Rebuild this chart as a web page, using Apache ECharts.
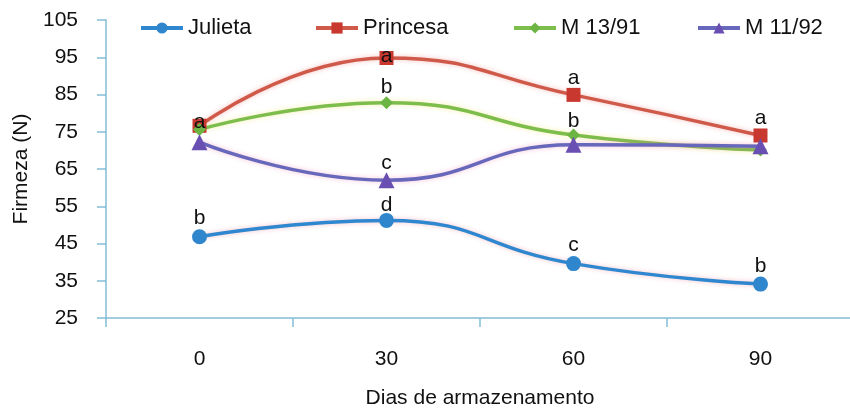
<!DOCTYPE html>
<html>
<head>
<meta charset="utf-8">
<script src="https://cdn.jsdelivr.net/npm/echarts@6/dist/echarts.min.js"></script>
<style>
  html, body { margin: 0; padding: 0; background: #ffffff; }
  #chart { width: 850px; height: 410px; }
</style>
</head>
<body>
<div id="chart"></div>
<script>
// Storage days and firmness (N) per cultivar
const days = ['0', '30', '60', '90'];

const julieta  = [46.8, 51.2, 39.6, 34.1];
const princesa = [76.6, 94.8, 84.9, 74.0];
const m1391    = [75.6, 82.8, 74.1, 70.1];
const m1192    = [72.2, 62.0, 71.5, 71.1];

// Significance letters written over each point
const julietaLetters  = ['b', 'd', 'c', 'b'];
const princesaLetters = ['a', 'a', 'a', 'a'];
const m1391Letters    = ['', 'b', 'b', ''];
const m1192Letters    = ['', 'c', '', ''];

// y-axis ticks
const yMin = 25, yMax = 105, yStep = 10;

const FONT = '"Liberation Sans", Arial, sans-serif';
const AXIS_COLOR = '#84bcd6';

// vertical lift of each letter above its point, px
const lifts = {
  Julieta:  [19, 15, 18, 18],
  Princesa: [4, 2, 17, 17],
  'M 13/91': [0, 15, 14, 0],
  'M 11/92': [0, 17, 0, 0]
};

function makeSeries(name, values, letters, color, markColor, symbol, size, glow) {
  return {
    name: name,
    type: 'line',
    smooth: 0.5,
    symbol: symbol,
    symbolSize: size,
    data: values.map((v, i) => ({
      value: v,
      label: {
        show: letters[i] !== '',
        formatter: letters[i],
        position: 'inside',
        offset: [0, -lifts[name][i]]
      }
    })),
    lineStyle: { color: color, width: 3.5, shadowBlur: 5, shadowColor: glow },
    itemStyle: { color: markColor },
    label: { color: '#111', fontSize: 21, fontFamily: FONT },
    emphasis: { disabled: true }
  };
}

const series = [
  makeSeries('Julieta', julieta, julietaLetters, '#2f88cf', '#2f86cd', 'circle', 15, 'rgba(235,120,140,0.45)'),
  makeSeries('Princesa', princesa, princesaLetters, '#cf5a4a', '#c8382e', 'rect', 14, 'rgba(235,120,120,0.45)'),
  makeSeries('M 13/91', m1391, m1391Letters, '#7dbd4c', '#6cb544', 'diamond', 13, 'rgba(240,230,90,0.5)'),
  makeSeries('M 11/92', m1192, m1192Letters, '#6767bb', '#6a4fb2', 'triangle', 16, 'rgba(235,120,170,0.45)')
];

const legendLefts = [134, 309, 507, 691];
const legends = series.map((s, i) => ({
  data: [s.name],
  left: legendLefts[i],
  top: 12,
  itemWidth: 42,
  itemHeight: 14,
  lineStyle: { width: 4 },
  textStyle: { fontSize: 22, fontFamily: FONT, color: '#111' },
  selectedMode: false
}));

const chart = echarts.init(document.getElementById('chart'), null, { renderer: 'canvas' });
chart.setOption({
  animation: false,
  backgroundColor: '#ffffff',
  legend: legends,
  grid: { left: 106, right: -4, top: 20, bottom: 92, containLabel: false, outerBoundsMode: 'none' },
  xAxis: {
    type: 'category',
    data: days,
    boundaryGap: true,
    name: 'Dias de armazenamento',
    nameLocation: 'middle',
    nameGap: 70,
    nameTextStyle: { fontSize: 21, fontFamily: FONT, color: '#111' },
    axisLine: { lineStyle: { color: AXIS_COLOR, width: 1.5 } },
    axisTick: { show: true, length: 9, inside: false, lineStyle: { color: AXIS_COLOR, width: 1.5 } },
    axisLabel: { fontSize: 21, fontFamily: FONT, color: '#111', margin: 31 },
    splitLine: { show: false }
  },
  yAxis: {
    type: 'value',
    min: yMin,
    max: yMax,
    interval: yStep,
    name: 'Firmeza (N)',
    nameLocation: 'middle',
    nameGap: 74,
    nameTextStyle: { fontSize: 21, fontFamily: FONT, color: '#111' },
    axisLine: { show: true, lineStyle: { color: AXIS_COLOR, width: 1.5 } },
    axisTick: { show: true, length: 9, inside: false, lineStyle: { color: AXIS_COLOR, width: 1.5 } },
    axisLabel: { fontSize: 21, fontFamily: FONT, color: '#111', margin: 28, padding: [4, 0, 0, 0] },
    splitLine: { show: false }
  },
  series: series
});
</script>
</body>
</html>
